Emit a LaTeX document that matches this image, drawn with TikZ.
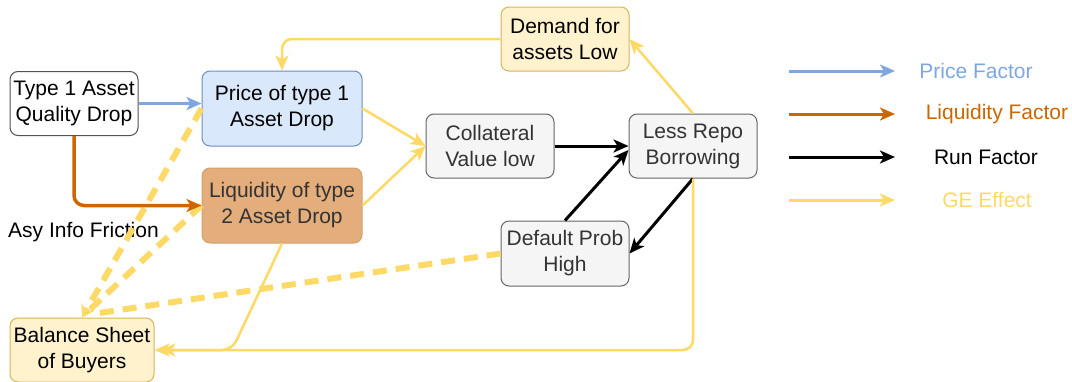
\documentclass[tikz,border=0pt]{standalone}
\usepackage{fontspec}
\setmainfont{Liberation Sans}
\usetikzlibrary{arrows.meta,calc}
\definecolor{cblue}{HTML}{7EA6E0}
\definecolor{corange}{HTML}{CC6600}
\definecolor{cyellow}{HTML}{FFD966}
\definecolor{pfill}{HTML}{DAE8FC}
\definecolor{pline}{HTML}{6C8EBF}
\definecolor{lfill}{HTML}{E4AD7C}
\definecolor{lline}{HTML}{D6A06E}
\definecolor{yfill}{HTML}{FFF2CC}
\definecolor{yline}{HTML}{D6B656}
\definecolor{gfill}{HTML}{F5F5F5}
\definecolor{gline}{HTML}{666666}
\definecolor{gtext}{HTML}{333333}
\begin{document}
\begin{tikzpicture}[x=1pt,y=-1pt,
  every node/.style={font=\fontsize{21}{26}\selectfont},
  box/.style={draw, rounded corners=8pt, align=center, inner sep=0pt, line width=1pt, minimum width=128pt, minimum height=64pt},
  graybox/.style={box, fill=gfill, draw=gline, text=gtext},
  yellowbox/.style={box, fill=yfill, draw=yline},
  tip/.style={-{Stealth[length=15pt,width=13pt,inset=4pt]}},
  bigtip/.style={-{Stealth[length=12pt,width=15pt,inset=4pt]}},
  blueedge/.style={draw=cblue, line width=3pt, tip},
  orangeedge/.style={draw=corange, line width=3.5pt, tip},
  blackedge/.style={draw=black, line width=3pt, tip},
  geedge/.style={draw=cyellow, line width=2.5pt, tip},
  gedash/.style={draw=cyellow, line width=6pt, dash pattern=on 14pt off 9pt},
  legtext/.style={anchor=center}
]
\useasboundingbox (0,0) rectangle (1072,381);

% nodes
\node[box, draw=gline!80!black, fill=white] (t1) at (74,103.5) {Type 1 Asset\\Quality Drop};
\node[box, fill=pfill, draw=pline, minimum width=160pt, minimum height=75pt] (price) at (282,108.5) {Price of type 1\\Asset Drop};
\node[box, fill=lfill, draw=lline, text=gtext, minimum width=160pt, minimum height=75pt] (liq) at (282,205.5) {Liquidity of type\\2 Asset Drop};
\node[yellowbox] (demand) at (565,39) {Demand for\\assets Low};
\node[graybox] (coll) at (490,146) {Collateral\\Value low};
\node[graybox] (repo) at (693,146) {Less Repo\\Borrowing};
\node[graybox, minimum height=65pt] (def) at (565,253.5) {Default Prob\\High};
\node[yellowbox, minimum width=144pt] (bal) at (82,350) {Balance Sheet\\of Buyers};
\node[anchor=west, inner sep=0pt] (asy) at (8,232) {Asy Info Friction};

% dashed GE effects
\draw[gedash] (def.west) -- ($(bal.north)+(14,-4)$);
\draw[gedash] (liq.west) -- ($(bal.north)+(8,-8)$);
\draw[gedash, bigtip] (price.west) -- (bal.north);

% solid edges
\draw[blueedge] (t1.east) -- (t1.east -| price.west);
\draw[orangeedge, rounded corners=10pt] (t1.south) |- (liq.west);
\draw[geedge] (price.east) -- (coll.west);
\draw[geedge] (liq.east) -- (coll.west);
\draw[blackedge] (coll.east) -- (repo.west);
\draw[blackedge] (def.north) -- ($(repo.west)+(0,4)$);
\draw[blackedge] (repo.south) -- (def.east);
\draw[geedge] (repo.north) -- (demand.east);
\draw[geedge, rounded corners=10pt] (demand.west) -| (price.north);
\coordinate (bend) at (232,350);
\draw[geedge, rounded corners=10pt] (repo.south) -- (repo.south |- bal.east) -- ($(bal.east)+(6,0)$);
\draw[geedge, rounded corners=10pt] (liq.south) -- (bend) -- (bal.east);

% legend
\node[legtext, text=cblue] (lg1) at (976,71) {Price Factor};
\node[legtext, text=corange] (lg2) at (997,114) {Liquidity Factor};
\node[legtext, text=black] (lg3) at (986,157) {Run Factor};
\node[legtext, text=cyellow] (lg4) at (987,200) {GE Effect};
\coordinate (la1) at (789,71);  \coordinate (lb1) at (895,71);
\coordinate (la2) at (789,114); \coordinate (lb2) at (895,114);
\coordinate (la3) at (789,157); \coordinate (lb3) at (895,157);
\coordinate (la4) at (789,200); \coordinate (lb4) at (895,200);
\draw[blueedge] (la1) -- (lb1);
\draw[orangeedge, line width=3pt] (la2) -- (lb2);
\draw[blackedge] (la3) -- (lb3);
\draw[geedge, line width=3pt] (la4) -- (lb4);
\end{tikzpicture}
\end{document}
